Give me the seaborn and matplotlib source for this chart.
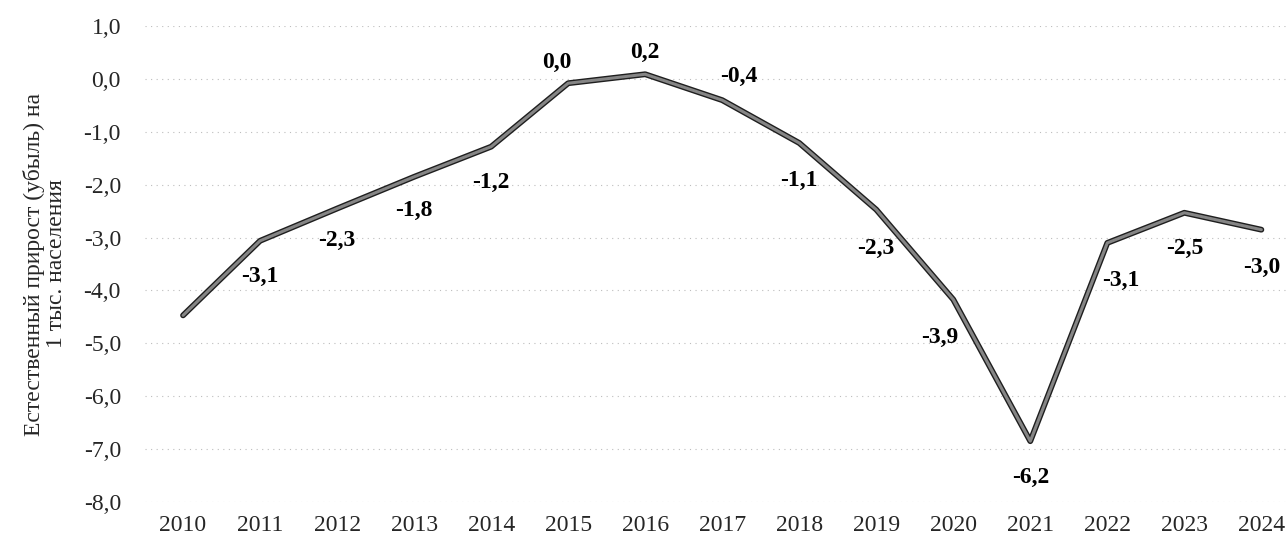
import matplotlib
matplotlib.use("Agg")
import matplotlib.pyplot as plt
import matplotlib.patheffects as pe
import seaborn as sns
import pandas as pd

# values as plotted (line) and the printed data labels
years = [2010, 2011, 2012, 2013, 2014, 2015, 2016, 2017, 2018, 2019, 2020, 2021, 2022, 2023, 2024]
line_vals = [-4.47, -3.06, -2.45, -1.85, -1.28, -0.08, 0.09, -0.4, -1.21, -2.47, -4.17, -6.85, -3.1, -2.53, -2.85]
label_vals = [None, -3.1, -2.3, -1.8, -1.2, 0.0, 0.2, -0.4, -1.1, -2.3, -3.9, -6.2, -3.1, -2.5, -3.0]
# label offsets (points): below the line, except the peak years
label_dx = [0, 0, 0, 0, 0, -8, 0, 12, 0, 0, -10, 0, 10, 0, 0]
label_dy = [0, -26, -23, -24, -26, 15, 16, 17, -27, -28, -27, -26, -27, -26, -27]
y_ticks = [1, 0, -1, -2, -3, -4, -5, -6, -7, -8]

sns.set_style("white")
plt.rcParams['font.family'] = ['Liberation Serif', 'DejaVu Serif']

df = pd.DataFrame({'year': years, 'value': line_vals})

fig = plt.figure(figsize=(12.86, 5.42), dpi=100)
ax = fig.add_axes([0.1124, 0.0738, 0.8876, 0.878])

sns.lineplot(data=df, x='year', y='value', ax=ax, color='#858585', linewidth=2.2,
             path_effects=[pe.Stroke(linewidth=4.2, foreground='#1e1e1e'), pe.Normal()])

for yr, v, lab, dx, dy in zip(years, line_vals, label_vals, label_dx, label_dy):
    if lab is None:
        continue
    txt = f"{lab:.1f}".replace('.', ',')
    ax.annotate(txt, (yr, v), xytext=(dx, dy), textcoords='offset points',
                ha='center', va='center', fontsize=17, fontweight='bold', color='black')

ax.set_xlim(2009.5, 2024.32)
ax.set_ylim(-8, 1)
ax.set_xticks(years)
ax.set_xticklabels([str(y) for y in years])
ax.set_yticks(y_ticks)
ax.set_yticklabels([f"{t:.1f}".replace('.', ',') for t in y_ticks])
ax.tick_params(axis='both', length=0, labelsize=17)
ax.tick_params(axis='y', pad=17)
ax.tick_params(axis='x', pad=9)

ax.grid(axis='y', color='#bdbdbd', linewidth=0.8, linestyle=(0, (1, 4)))
ax.grid(axis='x', visible=False)
for s in ax.spines.values():
    s.set_visible(False)

ax.set_xlabel('')
ax.set_ylabel('Естественный прирост (убыль) на\n1 тыс. населения', fontsize=17, labelpad=12,
              linespacing=1.05)

fig.savefig('out.png', dpi=100)
